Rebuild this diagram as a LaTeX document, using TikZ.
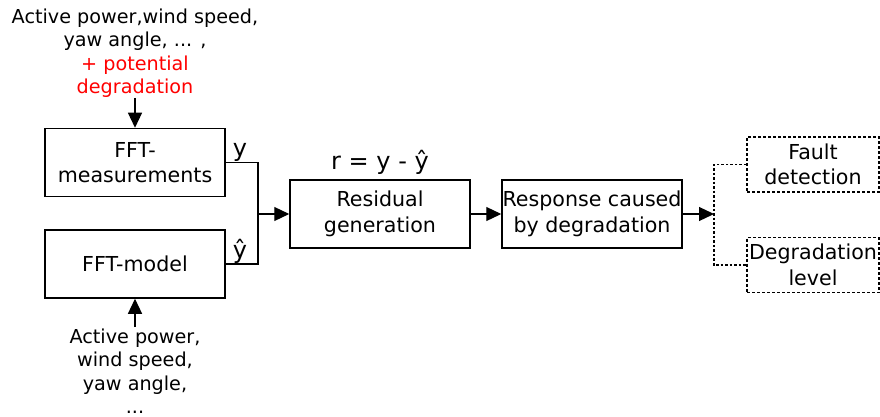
\documentclass[tikz,border=0pt]{standalone}
\usepackage{fontspec}
\setmainfont{DejaVu Sans}
\usetikzlibrary{arrows.meta}
\begin{document}
\begin{tikzpicture}[x=1pt,y=-1pt,
  txt/.style={font=\fontsize{19.2}{23.5}\selectfont, align=center, inner sep=0pt},
  btxt/.style={font=\fontsize{20.6}{25.5}\selectfont, align=center, inner sep=0pt},
  ltxt/.style={font=\fontsize{24}{28}\selectfont, inner sep=0pt},
  blk/.style={draw, line width=1.5pt, minimum width=180pt, minimum height=68pt, btxt},
  dblk/.style={draw, dashed, dash pattern=on 3pt off 2pt, line width=1.2pt, minimum width=132pt, minimum height=55pt, btxt},
  arr/.style={line width=1.2pt, -{Triangle[length=15pt,width=14pt]}},
  dline/.style={line width=1.2pt, dash pattern=on 2.5pt off 2pt}]
\useasboundingbox (0,0) rectangle (880,417);
\node[blk] (meas) at (135,162.5) {FFT-\\measurements};
\node[blk] (model) at (135,264) {FFT-model};
\node[blk] (res) at (380,214) {Residual\\generation};
\node[blk] (resp) at (592,214) {Response caused\\by degradation};
\node[dblk] (fault) at (813,164.5) {Fault\\detection};
\node[dblk] (deg) at (813,265) {Degradation\\level};
\node[txt] (top) at (135,53) {Active power,wind speed,\\yaw angle, ... ,\\\textcolor{red}{+ potential}\\\textcolor{red}{degradation}};
\node[txt] (bot) at (135,371) {Active power,\\wind speed,\\yaw angle,\\...};
\node[ltxt, anchor=base] (ylab) at (240,157) {y};
\node[ltxt, anchor=base] (yhlab) at (240,258) {ŷ};
\node[ltxt, anchor=base] (rlab) at (380,169) {r = y - ŷ};
\coordinate (j) at (258,214);
\coordinate (b) at (714,214);
\draw[arr] (135,98) -- (meas.north);
\draw[arr] (135,327) -- (model.south);
\draw[line width=1.2pt] (meas.east) -| (j) |- (model.east);
\draw[arr] (j) -- (res.west);
\draw[arr] (res.east) -- (resp.west);
\draw[arr] (resp.east) -- (b);
\draw[dline] (fault.west) -| (b) |- (deg.west);
\end{tikzpicture}
\end{document}
